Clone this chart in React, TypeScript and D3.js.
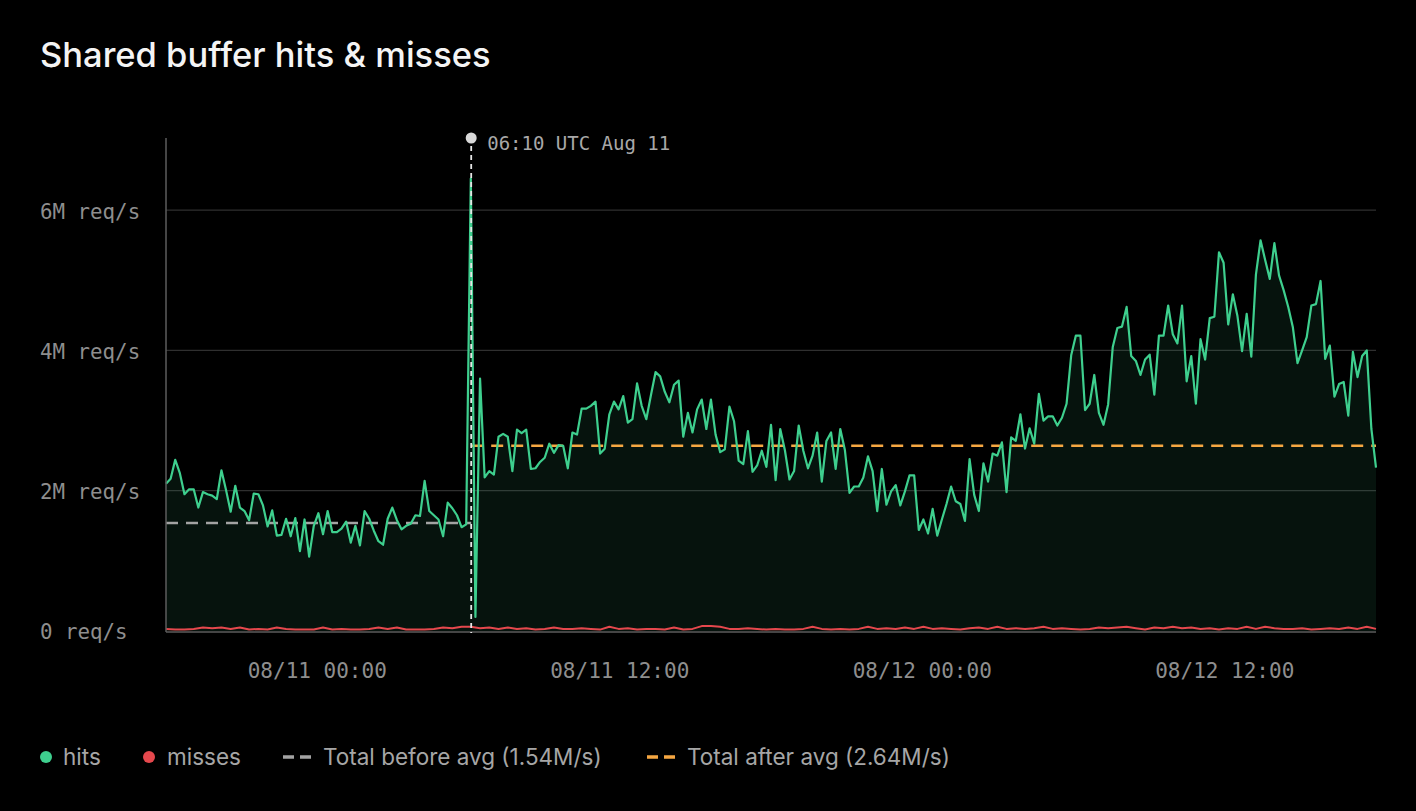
import * as d3 from 'd3';

// hits, in M req/s, sampled evenly from 08/10 18:00 to 08/12 18:00 UTC
const hits: number[] = [
  2.10, 2.17, 2.44, 2.25, 1.95, 2.02, 2.02, 1.76, 1.98, 1.95, 1.93, 1.88, 2.29, 2.01, 1.70, 2.07,
  1.76, 1.71, 1.58, 1.96, 1.95, 1.79, 1.49, 1.72, 1.36, 1.37, 1.60, 1.35, 1.61, 1.14, 1.59, 1.06,
  1.50, 1.68, 1.38, 1.71, 1.41, 1.41, 1.46, 1.56, 1.26, 1.50, 1.22, 1.71, 1.60, 1.43, 1.28, 1.23,
  1.60, 1.76, 1.58, 1.45, 1.50, 1.53, 1.65, 1.64, 2.14, 1.71, 1.65, 1.59, 1.35, 1.83, 1.75, 1.65,
  1.48, 1.52, 6.45, 0.20,
  3.60, 2.19, 2.28, 2.23, 2.77, 2.81, 2.77, 2.28, 2.87, 2.82, 2.87, 2.31, 2.32, 2.41, 2.47, 2.67,
  2.54, 2.65, 2.64, 2.32, 2.83, 2.80, 3.17, 3.17, 3.21, 3.27, 2.53, 2.60, 3.09, 3.27, 3.16, 3.35,
  2.97, 3.02, 3.53, 3.21, 3.02, 3.36, 3.69, 3.63, 3.41, 3.26, 3.51, 3.57, 2.77, 3.11, 2.83, 3.16,
  3.30, 2.88, 3.30, 2.80, 2.55, 2.59, 3.20, 2.99, 2.43, 2.38, 2.85, 2.27, 2.36, 2.57, 2.34, 2.94,
  2.15, 2.88, 2.58, 2.16, 2.28, 2.93, 2.57, 2.32, 2.50, 2.83, 2.13, 2.71, 2.83, 2.31, 2.88, 2.58,
  1.97, 2.06, 2.06, 2.19, 2.49, 2.28, 1.71, 2.31, 1.80, 1.99, 2.08, 1.79, 1.99,
  2.22, 2.22, 1.44, 1.59, 1.39, 1.74, 1.36, 1.59, 1.81, 2.06, 1.85, 1.81, 1.57, 2.45, 1.94, 1.71,
  2.39, 2.13, 2.53, 2.50, 2.69, 1.98, 2.76, 2.71, 3.09, 2.60, 2.89, 2.67, 3.38, 3.00, 3.06, 3.06,
  2.93, 3.04, 3.24, 3.93, 4.21, 4.21, 3.15, 3.24, 3.65, 3.11, 2.94, 3.23, 4.05, 4.32, 4.34, 4.62,
  3.92, 3.85, 3.65, 3.87, 3.94, 3.37, 4.21, 4.21, 4.64, 4.23, 4.10, 4.64, 3.56, 3.92, 3.24, 4.16,
  3.87, 4.46, 4.48, 5.40, 5.25, 4.37, 4.80, 4.49, 3.99, 4.52, 3.91, 5.08, 5.57, 5.29, 5.02, 5.53,
  5.07, 4.86, 4.62, 4.33, 3.82, 4.00, 4.19, 4.64, 4.66, 4.99, 3.88, 4.07, 3.34, 3.52, 3.55, 3.07,
  3.98, 3.62, 3.92, 4.00, 2.88, 2.33,
];

// misses, in M req/s, sampled evenly over the same range
const misses: number[] = [
  0.03, 0.02, 0.02, 0.03, 0.05, 0.04, 0.05, 0.03, 0.05, 0.02, 0.03, 0.02, 0.05, 0.03, 0.02, 0.02,
  0.02, 0.05, 0.02, 0.03, 0.02, 0.02, 0.03, 0.05, 0.03, 0.05, 0.02, 0.02, 0.02, 0.03, 0.05, 0.04,
  0.06, 0.06, 0.04, 0.05, 0.03, 0.05, 0.03, 0.04, 0.02, 0.03, 0.05, 0.03, 0.03, 0.04, 0.03, 0.02,
  0.06, 0.03, 0.04, 0.02, 0.03, 0.03, 0.02, 0.05, 0.02, 0.03, 0.07, 0.07, 0.06, 0.03, 0.03, 0.04,
  0.03, 0.02, 0.03, 0.02, 0.02, 0.03, 0.06, 0.03, 0.02, 0.03, 0.02, 0.03, 0.06, 0.03, 0.04, 0.03,
  0.05, 0.03, 0.06, 0.03, 0.04, 0.03, 0.02, 0.04, 0.05, 0.03, 0.06, 0.03, 0.04, 0.03, 0.04, 0.06,
  0.03, 0.04, 0.03, 0.02, 0.03, 0.05, 0.04, 0.05, 0.06, 0.04, 0.02, 0.05, 0.04, 0.06, 0.04, 0.05,
  0.03, 0.04, 0.02, 0.04, 0.03, 0.06, 0.03, 0.06, 0.04, 0.03, 0.03, 0.04, 0.02, 0.03, 0.04, 0.03,
  0.05, 0.03, 0.06, 0.03,
];

const startTime = new Date(Date.UTC(2024, 7, 10, 18, 0));
const endTime = new Date(Date.UTC(2024, 7, 12, 18, 0));
const eventTime = new Date(Date.UTC(2024, 7, 11, 6, 10));
const eventLabel = '06:10 UTC Aug 11';
const yTicks = [0, 2, 4, 6];
const beforeAvg = 1.54;
const afterAvg = 2.64;
const legendItems = ['hits', 'misses', 'Total before avg (1.54M/s)', 'Total after avg (2.64M/s)'];

const GREEN = '#3ecf8e';
const RED = '#e5484d';
const ORANGE = '#f5a742';
const GREY = '#a3a3a3';
const MONO = '"DejaVu Sans Mono", "Liberation Mono", monospace';
const SANS = 'Inter, "Noto Sans", sans-serif';

const timesFor = (n: number) =>
  d3.range(n).map((i) => new Date(+startTime + (i * (+endTime - +startTime)) / (n - 1)));

export default function App() {
  const left = 166;
  const right = 1376;
  const top = 140;
  const bottom = 631;

  const x = d3.scaleUtc().domain([startTime, endTime]).range([left, right]);
  const y = d3.scaleLinear().domain([0, 7]).range([bottom, top]);

  const hitTimes = timesFor(hits.length);
  const missTimes = timesFor(misses.length);
  const hitData = hits.map((v, i) => [hitTimes[i], v] as [Date, number]);
  const missData = misses.map((v, i) => [missTimes[i], v] as [Date, number]);

  const line = d3
    .line<[Date, number]>()
    .x((d) => x(d[0]))
    .y((d) => y(d[1]));
  const area = d3
    .area<[Date, number]>()
    .x((d) => x(d[0]))
    .y0(y(0))
    .y1((d) => y(d[1]));

  const xTicks = x.ticks(d3.utcHour.every(12)!);
  const fmt = d3.utcFormat('%m/%d %H:%M');
  const ex = x(eventTime) - 1.5;

  return (
    <svg
      width={1416}
      height={811}
      style={{ position: 'fixed', left: 0, top: 0, background: '#000' }}
    >
      <rect width={1416} height={811} fill="#000" />
      <text x={40} y={67} fill="#f4f4f4" fontFamily={SANS} fontSize={34.5} fontWeight={500}>
        Shared buffer hits &amp; misses
      </text>

      {/* grid */}
      {yTicks.map((t) => (
        <g key={t}>
          {t > 0 && (
            <line x1={left} x2={right} y1={y(t)} y2={y(t)} stroke="#2f2f2f" strokeWidth={1.2} />
          )}
          <text
            x={40}
            y={y(t) + 1}
            dy="0.36em"
            fill="#8e8e8e"
            fontFamily={MONO}
            fontSize={20.8}
          >
            {t === 0 ? '0 req/s' : `${t}M req/s`}
          </text>
        </g>
      ))}
      {xTicks.map((t) => (
        <text
          key={+t}
          x={x(t)}
          y={678}
          textAnchor="middle"
          fill="#8e8e8e"
          fontFamily={MONO}
          fontSize={21}
        >
          {fmt(t)}
        </text>
      ))}

      {/* series */}
      <path d={area(hitData)!} fill={GREEN} fillOpacity={0.09} />
      <line
        x1={left}
        x2={ex}
        y1={y(beforeAvg)}
        y2={y(beforeAvg)}
        stroke={GREY}
        strokeWidth={2.5}
        strokeDasharray="12 8"
      />
      <line
        x1={ex}
        x2={right}
        y1={y(afterAvg)}
        y2={y(afterAvg)}
        stroke={ORANGE}
        strokeWidth={2.5}
        strokeDasharray="12 8"
      />
      <path d={line(hitData)!} fill="none" stroke={GREEN} strokeWidth={2.2} strokeLinejoin="round" />
      <path d={line(missData)!} fill="none" stroke={RED} strokeWidth={2} strokeLinejoin="round" />

      {/* axes */}
      <line x1={left} x2={left} y1={138} y2={bottom + 1} stroke="#5c5c5c" strokeWidth={1.5} />
      <line x1={left} x2={right} y1={bottom + 1} y2={bottom + 1} stroke="#5c5c5c" strokeWidth={1.5} />

      {/* event marker */}
      <line
        x1={ex}
        x2={ex}
        y1={146}
        y2={bottom + 2}
        stroke="#e6e6e6"
        strokeWidth={1.8}
        strokeDasharray="5 4"
      />
      <circle cx={ex} cy={138} r={5.5} fill="#d8d8d8" />
      <text x={ex + 16} y={150} fill="#a8a8a8" fontFamily={MONO} fontSize={19}>
        {eventLabel}
      </text>

      {/* legend */}
      <g fontFamily={SANS} fontSize={22.5} fill="#a6a6a6">
        <circle cx={46} cy={757} r={6} fill={GREEN} />
        <text x={63} y={765}>{legendItems[0]}</text>
        <circle cx={149} cy={757} r={6} fill={RED} />
        <text x={167} y={765}>{legendItems[1]}</text>
        <line x1={283} x2={311} y1={757} y2={757} stroke={GREY} strokeWidth={3.5} strokeDasharray="11 6" />
        <text x={323} y={765}>{legendItems[2]}</text>
        <line x1={647} x2={675} y1={757} y2={757} stroke={ORANGE} strokeWidth={3.5} strokeDasharray="11 6" />
        <text x={687} y={765}>{legendItems[3]}</text>
      </g>
    </svg>
  );
}
